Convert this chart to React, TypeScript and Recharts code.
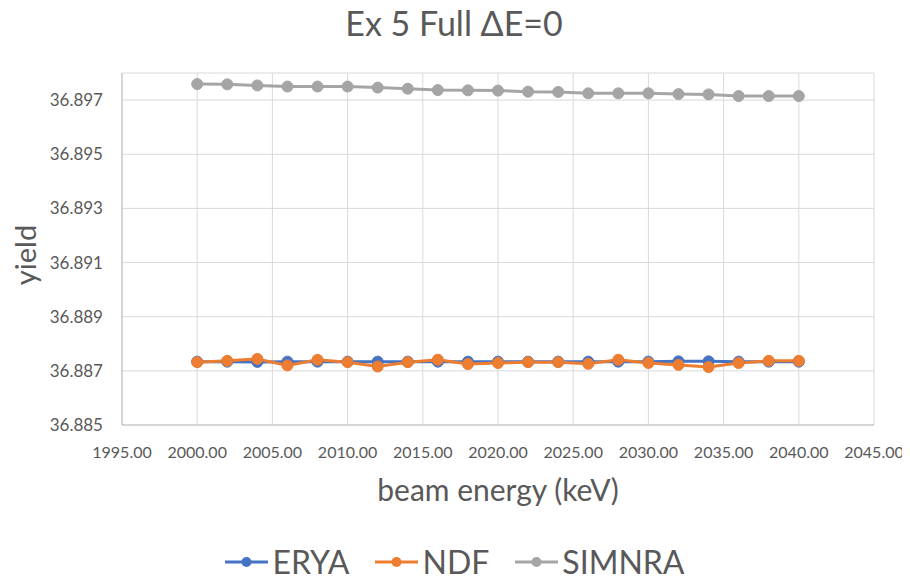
import React from 'react';
import { LineChart, Line, XAxis, YAxis, CartesianGrid, Legend, Label } from 'recharts';

const energies = [2000, 2002, 2004, 2006, 2008, 2010, 2012, 2014, 2016, 2018, 2020, 2022, 2024, 2026, 2028, 2030, 2032, 2034, 2036, 2038, 2040];
const erya = [36.88734, 36.88734, 36.88733, 36.88734, 36.88734, 36.88734, 36.88734, 36.88734, 36.88734, 36.88734, 36.88734, 36.88734, 36.88734, 36.88734, 36.88734, 36.88734, 36.88735, 36.88735, 36.88734, 36.88734, 36.88734];
const ndf = [36.88732, 36.88737, 36.88744, 36.8872, 36.88741, 36.88732, 36.88716, 36.88732, 36.88741, 36.88725, 36.88729, 36.88732, 36.88732, 36.88726, 36.88741, 36.88729, 36.88722, 36.88714, 36.88729, 36.88737, 36.88737];
const simnra = [36.89759, 36.89758, 36.89754, 36.8975, 36.8975, 36.8975, 36.89746, 36.89742, 36.89737, 36.89736, 36.89735, 36.89731, 36.8973, 36.89725, 36.89725, 36.89725, 36.89722, 36.89721, 36.89715, 36.89715, 36.89715];

const seriesNames = ['ERYA', 'NDF', 'SIMNRA'];
const seriesColors = ['#4472C4', '#ED7D31', '#A5A5A5'];

const xTicks = [1995, 2000, 2005, 2010, 2015, 2020, 2025, 2030, 2035, 2040, 2045];
const yTicks = [36.885, 36.887, 36.889, 36.891, 36.893, 36.895, 36.897];
const xMinorTicks = Array.from({ length: 51 }, (_, i) => 1995 + i);
const yMinorTicks = Array.from({ length: 33 }, (_, i) => 36.885 + i * 0.0004);

const data = energies.map((e, i) => ({ energy: e, ERYA: erya[i], NDF: ndf[i], SIMNRA: simnra[i] }));

const FONT = 'Lato, "Open Sans", sans-serif';
const TEXT = '#595959';

const LegendContent = () => (
  <div style={{ display: 'flex', justifyContent: 'center', alignItems: 'center', width: 902, height: 30, paddingRight: 8, boxSizing: 'border-box', fontFamily: FONT, fontSize: 32, lineHeight: '30px', color: TEXT }}>
    {seriesNames.map((n, i) => (
      <div key={n} style={{ display: 'flex', alignItems: 'center', marginLeft: i === 0 ? 0 : 26 }}>
        <svg width={43} height={14} style={{ display: 'block' }}>
          <line x1={0} y1={7} x2={43} y2={7} stroke={seriesColors[i]} strokeWidth={3} />
          <circle cx={21.5} cy={7} r={5} fill={seriesColors[i]} />
        </svg>
        <span style={{ marginLeft: 4 }}>{n}</span>
      </div>
    ))}
  </div>
);

const YTitle = (props: any) => {
  const vb = props.viewBox || { x: 0, y: 65, width: 114, height: 352 };
  const cx = 16;
  const cy = vb.y + vb.height / 2 + 6;
  return (
    <text x={cx} y={cy} transform={`rotate(-90 ${cx} ${cy})`} textAnchor="middle" dominantBaseline="central" fill={TEXT} style={{ fontFamily: FONT, fontSize: 29 }}>
      yield
    </text>
  );
};

const XTitle = (props: any) => {
  const vb = props.viewBox || { x: 114, y: 417, width: 752, height: 163 };
  return (
    <text x={vb.x + vb.width / 2} y={vb.y + 76} textAnchor="middle" fill={TEXT} style={{ fontFamily: FONT, fontSize: 30 }}>
      beam energy (keV)
    </text>
  );
};

const NoTick = () => <g />;

export default function App() {
  return (
    <div style={{ position: 'relative', width: 902, height: 575 }}>
      <style>{`html,body{overflow:hidden}`}</style>
      <div style={{ position: 'absolute', left: 0, top: -5, width: 892, textAlign: 'center', fontFamily: FONT, fontSize: 34, lineHeight: '40px', color: TEXT, zIndex: 2 }}>
        Ex 5 Full ΔE=0
      </div>
      <LineChart width={902} height={575} data={data} margin={{ top: 65, right: 36, left: 0, bottom: 0 }}>
        <CartesianGrid stroke="#d9d9d9" strokeWidth={1} />
        <XAxis
          dataKey="energy"
          type="number"
          domain={[1995, 2045]}
          ticks={xTicks}
          interval={0}
          allowDataOverflow
          height={158}
          tickLine={false}
          axisLine={{ stroke: '#bfbfbf' }}
          tickMargin={16}
          tickFormatter={(v: number) => v.toFixed(2)}
          tick={{ fill: TEXT, fontSize: 16, fontFamily: FONT }}
        >
          <Label content={<XTitle />} />
        </XAxis>
        <XAxis
          xAxisId="minor"
          dataKey="energy"
          type="number"
          domain={[1995, 2045]}
          ticks={xMinorTicks}
          interval={0}
          allowDataOverflow
          height={0}
          mirror
          axisLine={false}
          tickLine={{ stroke: '#bfbfbf' }}
          tickSize={4}
          tick={<NoTick />}
        />
        <YAxis
          type="number"
          domain={[36.885, 36.898]}
          ticks={yTicks}
          interval={0}
          allowDataOverflow
          width={114}
          tickLine={false}
          axisLine={{ stroke: '#bfbfbf' }}
          tickMargin={13}
          tickFormatter={(v: number) => v.toFixed(3)}
          tick={{ fill: TEXT, fontSize: 17, fontFamily: FONT }}
        >
          <Label content={<YTitle />} />
        </YAxis>
        <YAxis
          yAxisId="minor"
          type="number"
          domain={[36.885, 36.898]}
          ticks={yMinorTicks}
          interval={0}
          allowDataOverflow
          width={0}
          mirror
          axisLine={false}
          tickLine={{ stroke: '#bfbfbf' }}
          tickSize={4}
          tick={<NoTick />}
        />
        <Legend verticalAlign="middle" align="center" content={<LegendContent />} wrapperStyle={{ top: 539, left: 0, width: 902 }} />
        {seriesNames.map((n, i) => (
          <Line
            key={n}
            dataKey={n}
            stroke={seriesColors[i]}
            strokeWidth={3}
            dot={{ r: 5.5, fill: seriesColors[i], stroke: seriesColors[i], strokeWidth: 1 }}
            activeDot={false}
            isAnimationActive={false}
          />
        ))}
      </LineChart>
    </div>
  );
}
